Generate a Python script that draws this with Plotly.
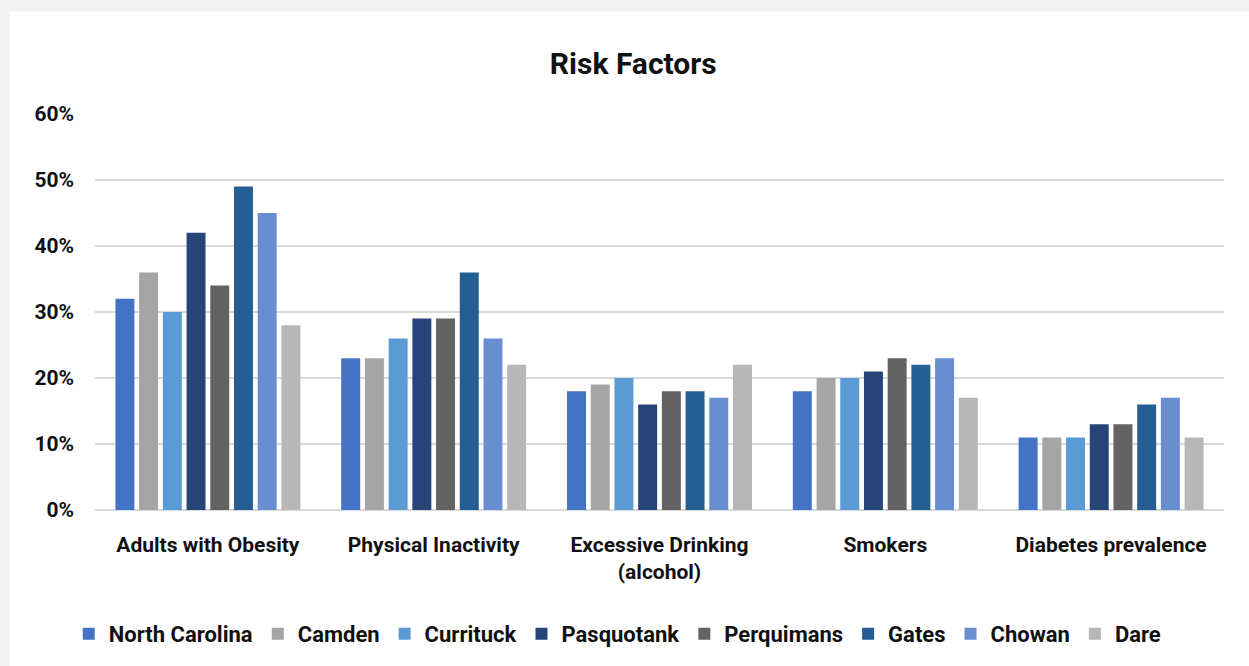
import plotly.graph_objects as go

categories = ["Adults with Obesity", "Physical Inactivity", "Excessive Drinking<br>(alcohol)", "Smokers", "Diabetes prevalence"]
series_names = ["North Carolina", "Camden", "Currituck", "Pasquotank", "Perquimans", "Gates", "Chowan", "Dare"]
north_carolina = [0.32, 0.23, 0.18, 0.18, 0.11]
camden = [0.36, 0.23, 0.19, 0.20, 0.11]
currituck = [0.30, 0.26, 0.20, 0.20, 0.11]
pasquotank = [0.42, 0.29, 0.16, 0.21, 0.13]
perquimans = [0.34, 0.29, 0.18, 0.23, 0.13]
gates = [0.49, 0.36, 0.18, 0.22, 0.16]
chowan = [0.45, 0.26, 0.17, 0.23, 0.17]
dare = [0.28, 0.22, 0.22, 0.17, 0.11]
values = [north_carolina, camden, currituck, pasquotank, perquimans, gates, chowan, dare]
colors = ["#4472C4", "#A5A5A5", "#5B9BD5", "#264478", "#636363", "#255E91", "#698ED0", "#B7B7B7"]
tick_vals = [0, 0.1, 0.2, 0.3, 0.4, 0.5, 0.6]
tick_text = ["0%", "10%", "20%", "30%", "40%", "50%", "60%"]

FONT = "Roboto, Arial, sans-serif"

fig = go.Figure()
for name, vals, col in zip(series_names, values, colors):
    fig.add_trace(go.Bar(name="<b>%s</b>" % name, x=categories, y=vals,
                         marker=dict(color=col, line=dict(width=0))))

fig.update_layout(
    width=1249, height=666,
    barmode="group", bargap=0.16, bargroupgap=0.2,
    paper_bgcolor="#f2f2f2", plot_bgcolor="rgba(0,0,0,0)",
    margin=dict(l=95, r=25, t=114, b=155),
    font=dict(family=FONT, size=21, color="#111111"),
    title=dict(text="<b>Risk Factors</b>", x=0.507, xanchor="center", y=0.905, yanchor="middle",
               font=dict(family=FONT, size=30, color="#111111")),
    yaxis=dict(range=[0, 0.6], tickvals=tick_vals, ticktext=["<b>%s</b>" % t for t in tick_text],
               showgrid=True, gridcolor="#d9d9d9", gridwidth=1.5, zeroline=True, zerolinecolor="#d9d9d9",
               zerolinewidth=1.5, ticks="", ticklabelstandoff=20, fixedrange=True),
    xaxis=dict(tickvals=categories, ticktext=["<b>%s</b>" % c for c in categories], showline=False,
               ticks="", ticklabelstandoff=20, fixedrange=True),
    legend=dict(orientation="h", x=0.463, xanchor="center", y=-0.31, yanchor="middle",
                font=dict(family=FONT, size=22), itemwidth=30, bgcolor="rgba(0,0,0,0)",
                traceorder="normal"),
    shapes=[dict(type="rect", xref="paper", yref="paper", x0=-0.0753, x1=1.03, y0=-0.45, y1=1.259,
                 fillcolor="white", line=dict(width=0), layer="below")],
)
fig.write_html("out.html", config={"displayModeBar": False},
               post_script="document.body.style.margin='0px';")
